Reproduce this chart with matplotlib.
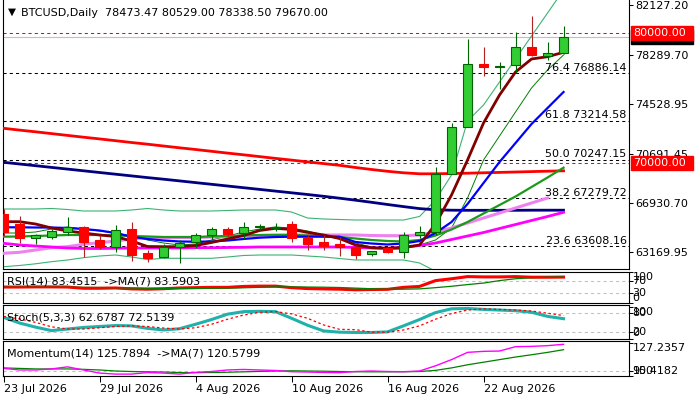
import numpy as np
import matplotlib
matplotlib.use('Agg')
import matplotlib.pyplot as plt
import matplotlib.transforms as mtransforms
from matplotlib.patches import Rectangle

# ---- данные ----
tick_idx = [0, 6, 12, 18, 24, 30]
tick_labels = ['23 Jul 2026', '29 Jul 2026', '4 Aug 2026', '10 Aug 2026', '16 Aug 2026', '22 Aug 2026']

opens = [66063, 65296, 64221, 64298, 64728, 65066, 64091, 63577, 64935, 63070, 62809, 63577,
         63915, 64475, 64935, 64605, 65066, 65035, 65319, 64221, 63915, 63761, 63530, 63040,
         63454, 63193, 64498, 64728, 69133, 72741, 77576, 77369, 77522, 78881, 78236, 78473.47]
highs = [66470, 65933, 64551, 64912, 65856, 65166, 64475, 65242, 65449, 63323, 63761, 64091,
         64605, 65112, 65089, 65449, 65319, 65373, 65549, 64528, 64475, 64344, 63707, 63247,
         63530, 64681, 65166, 69670, 73048, 79518, 78927, 77775, 80032, 81283, 79264, 80529.00]
lows = [64398, 63838, 63784, 64168, 64475, 62763, 63400, 63193, 62502, 62379, 62732, 62349,
        63454, 64091, 64344, 64144, 64835, 64804, 63960, 63323, 63323, 62863, 62609, 62840,
        63116, 62732, 64267, 64475, 69133, 72741, 76678, 75657, 76885, 78213, 77906, 78338.50]
closes = [64682, 64221, 64451, 64758, 65066, 63960, 63577, 64835, 62940, 62732, 63530, 63884,
          64475, 64912, 64528, 65066, 65143, 65089, 64221, 63784, 63653, 63530, 62963, 63247,
          63147, 64451, 64705, 69133, 72741, 77576, 77392, 77469, 78881, 78290, 78420, 79670.00]

ma_red = [72664, 72526, 72395, 72257, 72119, 71981, 71850, 71712, 71574, 71444, 71305, 71167,
          71037, 70899, 70761, 70630, 70492, 70354, 70223, 70085, 69955, 69824, 69655, 69502,
          69364, 69249, 69172, 69172, 69195, 69218, 69249, 69279, 69310, 69341, 69371, 69402]
ma_navy = [70054, 69924, 69794, 69663, 69533, 69402, 69272, 69141, 69011, 68880, 68757, 68627,
           68496, 68366, 68235, 68105, 67975, 67844, 67714, 67583, 67445, 67299, 67146, 66984,
           66816, 66654, 66501, 66409, 66378, 66370, 66370, 66370, 66370, 66378, 66378, 66378]
ma_blue = [65066, 65066, 65050, 65050, 65012, 64935, 64820, 64628, 64344, 64168, 64053, 63976,
           63961, 63976, 64053, 64168, 64268, 64321, 64344, 64344, 64344, 64344, 63937, 63822,
           63746, 63822, 64014, 64628, 65472, 66854, 68466, 70077, 71536, 72994, 74222, 75450]
ma_maroon = [65496, 65496, 65319, 65012, 64782, 64628, 64475, 64360, 64014, 63592, 63577, 63577,
             63669, 63899, 64168, 64436, 64820, 64989, 64897, 64682, 64475, 64206, 63707, 63500,
             63454, 63515, 63707, 65319, 67545, 70231, 73071, 75220, 76985, 77983, 78159, 78497]
ma_violet = [63070, 63147, 63323, 63500, 63577, 63761, 63884, 64014, 64168, 64268, 64268, 64283,
             64283, 64321, 64360, 64398, 64436, 64475, 64475, 64475, 64475, 64475, 64475, 64436,
             64421, 64421, 64475, 64705, 65012, 65396, 65779, 66163, 66547, 66931, 67314, np.nan]
ma_magenta = [63838, 63707, 63630, 63554, 63477, 63439, 63439, 63454, 63477, 63477, 63477, 63477,
              63500, 63500, 63515, 63531, 63554, 63554, 63554, 63554, 63554, 63554, 63515, 63477,
              63454, 63515, 63669, 63861, 64129, 64398, 64667, 64974, 65281, 65588, 65895, 66217]
ma_green = [64344, 64360, 64398, 64436, 64475, 64475, 64475, 64436, 64398, 64360, 64321, 64321,
            64321, 64360, 64398, 64436, 64475, 64475, 64475, 64436, 64398, 64321, 64207, 64091,
            64014, 63976, 64091, 64436, 64897, 65472, 66125, 66777, 67430, 68159, 68888, 69640]
ma_dkgreen = [64628, 64628, 64705, 64935, 65089, 64935, 64782, 64628, 64398, 64091, 63861, 63707,
              63784, 64091, 64398, 64705, 64935, 65089, 65012, 64782, 64475, 64168, 63861, 63554,
              63400, 63400, 63707, 64091, 65012, 67314, 70231, 72073, 73915, 75757, 77138, 78290]
bb_upper = [66470, 66470, 66470, 66509, 66432, 66317, 66317, 66317, 66393, 66509, 66393, 66317,
            66317, 66317, 66355, 66393, 66393, 66393, 66240, 65779, 65703, 65664, 65626, 65626,
            65626, 65626, 65895, 67161, 69080, 73224, 74452, 76217, 77983, 79748, 81513, 83279]
bb_lower = [62042, 62134, 62264, 62426, 62556, 62733, 62863, 62940, 62786, 62594, 62686, 62686,
            62686, 62686, 62786, 62901, 62940, 62940, 62940, 62863, 62786, 62671, 62556, 62556,
            62556, 62556, 62326, 61700, 60500, 58000, 57000, 56500, 56000, 55500, 55000, 55000]

fib_pct = ['76.4', '61.8', '50.0', '38.2', '23.6']
fib_levels = [76886.14, 73214.58, 70247.15, 67279.72, 63608.16]
price_ticks = [82127.20, 78289.70, 74528.95, 70691.45, 66930.70, 63169.95]
round_levels = [80000.00, 70000.00]
bid = 79670.00

rsi = [51, 51, 51.5, 51.5, 51, 47, 47, 48, 45, 44, 45.5, 48, 49, 50, 50, 53, 54, 54,
       49, 46, 45, 44, 42, 43, 43.5, 50, 53, 72, 78, 85, 84, 84, 85, 83, 83, 83.45]
rsi_ma = [50, 50, 50, 50, 50, 50, 49.5, 49, 48, 47, 46.5, 46.5, 46.5, 47, 47.5, 48.5, 50, 51.5,
          51.5, 51, 50.5, 49.5, 47.5, 45.5, 44, 44, 45, 49, 53.5, 59, 64, 72, 78, 81.5, 83, 83.59]
stoch_k = [67, 49, 36, 25, 30, 35, 38, 41, 40, 32, 27, 31, 45, 60, 77, 85, 86, 85,
           64, 42, 24, 20, 19, 19, 21, 40, 60, 82, 94, 95, 92, 90, 88, 83, 70, 62.68]
stoch_d = [70, 62, 51, 37, 30, 30, 34, 38, 40, 38, 33, 30, 34, 45, 61, 74, 83, 85,
           78, 64, 43, 29, 28, 20, 20, 27, 40, 61, 79, 90, 94, 92, 90, 87, 80, 72.51]
momentum = [102.5, 101, 101, 102, 104, 101, 98, 97, 97, 98.5, 98, 97, 98.7, 99.5, 101, 101.5,
            101, 100.5, 99.3, 99, 98.6, 98.4, 99.5, 100, 99.5, 99.3, 100, 105, 111, 118, 119,
            119.3, 123.5, 123.8, 124.5, 125.79]
mom_ma = [103, 102.5, 102, 102, 102, 101.6, 101, 100, 99.5, 99.2, 99, 98.5, 98.4, 98.5, 98.8,
          99.2, 99.6, 100, 100.2, 100, 99.8, 99.5, 99.3, 99.2, 99.2, 99.3, 99.5, 100.6, 103, 106,
          108.5, 111, 113.5, 115.7, 118, 120.58]

W, H = 700, 400
plt.rcParams['font.family'] = 'DejaVu Sans'
plt.rcParams['font.size'] = 8
fig = plt.figure(figsize=(W / 100, H / 100), dpi=100)


def px_axes(x0, y0, x1, y1):
    # оси в пикселях от левого верхнего угла
    return fig.add_axes([x0 / W, 1 - y1 / H, (x1 - x0) / W, (y1 - y0) / H])


def ftext(x, y, s, **kw):
    return fig.text(x / W, 1 - y / H, s, **kw)


x = np.arange(len(closes))
XL = (-0.0625, 39.06)
DASH = (0, (3, 3))

# ===== основной график =====
ax = px_axes(2.5, 0, 628.5, 269)
ax.set_xlim(*XL)
ax.set_ylim(61865, 82511)

ax.plot(x, bb_upper, color='#3cb371', lw=0.8, zorder=2)
ax.plot(x, bb_lower, color='#3cb371', lw=0.8, zorder=2)
ax.plot(x, ma_dkgreen, color='#008000', lw=0.7, zorder=2)
ax.plot(x, ma_red, color='#ff0000', lw=2, zorder=3)
ax.plot(x, ma_navy, color='#000080', lw=2, zorder=3)
ax.plot(x, ma_violet, color='#ee82ee', lw=2.2, zorder=3)
ax.plot(x, ma_magenta, color='#ff00ff', lw=2, zorder=3)
ax.plot(x, ma_green, color='#1a9a1a', lw=1.6, zorder=3)
ax.plot(x, ma_blue, color='#0000ff', lw=1.6, zorder=3)
ax.plot(x, ma_maroon, color='#800000', lw=2, zorder=3)

for lvl, pct in zip(fib_levels, fib_pct):
    ax.axhline(lvl, color='black', ls=DASH, lw=0.75, zorder=1)
    ax.text(38.95, lvl + 60, f'{pct} {lvl:.2f}', ha='right', va='bottom', fontsize=8, zorder=6)
for lvl in round_levels:
    ax.axhline(lvl, color='red', ls=DASH, lw=0.75, zorder=1)
ax.axhline(bid, color='#c0c0c0', lw=0.8, zorder=1)

# свечи
for i in x:
    o, h, l, c = opens[i], highs[i], lows[i], closes[i]
    up = c >= o
    ax.vlines(i, l, h, color='#006400' if up else '#b22222', lw=0.8, zorder=4)
    body = max(abs(c - o), 60)
    ax.add_patch(Rectangle((i - 0.31, min(o, c)), 0.62, body,
                           facecolor='#32cd32' if up else '#ff0000',
                           edgecolor='#006400' if up else '#ff0000', lw=0.8, zorder=5))

ax.set_xticks([])
ax.yaxis.tick_right()
ax.set_yticks(price_ticks)
ax.set_yticklabels([f'{p:.2f}' for p in price_ticks])
ax.tick_params(axis='y', length=3, pad=2, labelsize=8, width=0.75)
ax.spines['top'].set_visible(False)
for s in ['left', 'right', 'bottom']:
    ax.spines[s].set_linewidth(0.8)

ftext(7.5, 12, '\u25bc', fontsize=7.5, va='center')
ftext(21, 13, 'BTCUSD,Daily  78473.47 80529.00 78338.50 79670.00', va='center', fontsize=8)

# метки уровней справа
fig.canvas.draw()
blend = mtransforms.blended_transform_factory(fig.transFigure, ax.transData)
ppx = (82511 - 61865) / 269.0


def price_box(level, color, label):
    fig.add_artist(Rectangle((631 / W, level - 7 * ppx), 62 / W, 14 * ppx, transform=blend,
                             facecolor=color, edgecolor=color, zorder=5))
    if label:
        fig.text(633 / W, level, label, transform=blend, color='white', va='center',
                 fontsize=8, zorder=6)


price_box(bid, 'black', None)
price_box(80000.00, '#ff0000', '80000.00')
price_box(70000.00, '#ff0000', '70000.00')


def right_labels(a, items):
    for val, txt, va in items:
        a.annotate(txt, xy=(1, val), xycoords=('axes fraction', 'data'), xytext=(4, 0),
                   textcoords='offset pixels', va=va, ha='left', fontsize=8,
                   annotation_clip=False)


def style_sub(a, ticks):
    a.set_xlim(*XL)
    a.set_xticks([])
    a.yaxis.tick_right()
    a.set_yticks(ticks)
    a.set_yticklabels([])
    a.tick_params(axis='y', length=3, width=0.75)
    for s in a.spines.values():
        s.set_linewidth(0.8)


# ===== RSI =====
ar = px_axes(2.5, 272, 628.5, 302.7)
ar.set_ylim(0, 100)
for lv in (70, 30):
    ar.axhline(lv, color='#c0c0c0', ls=DASH, lw=0.75)
ar.plot(x, rsi, color='#ff0000', lw=2.2)
ar.plot(x, rsi_ma, color='#008000', lw=0.9)
style_sub(ar, [100, 70, 30, 0])
right_labels(ar, [(100, '100', 'top'), (70, '70', 'center'), (30, '30', 'center'), (0, '0', 'bottom')])
ftext(7, 282, 'RSI(14) 83.4515  ->MA(7) 83.5903', va='center', fontsize=8)

# ===== Stochastic =====
ast = px_axes(2.5, 305, 628.5, 338.5)
ast.set_ylim(0, 106)
for lv in (80, 20):
    ast.axhline(lv, color='#c0c0c0', ls=DASH, lw=0.75)
ast.plot(x, stoch_k, color='#20b2aa', lw=2.2)
ast.plot(x, stoch_d, color='#ff0000', lw=0.9, ls=(0, (2, 2)))
style_sub(ast, [100, 80, 20, 0])
right_labels(ast, [(100, '100', 'top'), (80, '80', 'center'), (20, '20', 'center'), (0, '0', 'bottom')])
ftext(7, 317, 'Stoch(5,3,3) 62.6787 72.5139', va='center', fontsize=8)

# ===== Momentum =====
am = px_axes(2.5, 341, 628.5, 376)
am.set_ylim(95.17, 128.99)
am.axhline(100, color='#c0c0c0', ls=DASH, lw=0.75)
am.plot(x, mom_ma, color='#008000', lw=0.9)
am.plot(x, momentum, color='#ff00ff', lw=1.0)
style_sub(am, [127.2357, 100, 95.4182])
right_labels(am, [(127.2357, '127.2357', 'top'), (100, '100', 'center'), (95.4182, '95.4182', 'bottom')])
ftext(7, 353, 'Momentum(14) 125.7894  ->MA(7) 120.5799', va='center', fontsize=8)

am.set_xticks(tick_idx)
am.set_xticklabels(tick_labels, ha='left')
am.tick_params(axis='x', length=4, pad=1.5, labelsize=8, width=0.75)

fig.savefig('out.png', dpi=100)
